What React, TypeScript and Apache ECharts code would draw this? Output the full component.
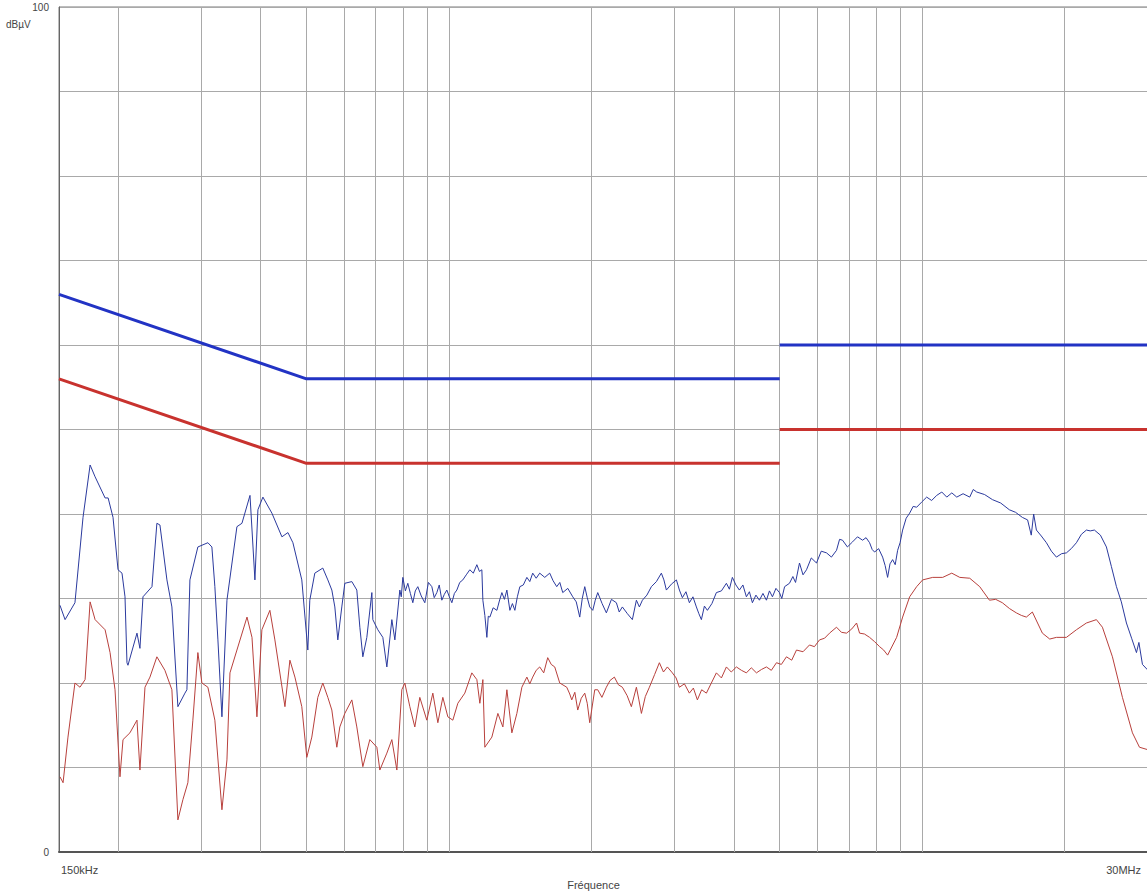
import { useEffect, useRef } from "react";
import * as echarts from "echarts";

// Frequency span of the scan, in MHz
const freqMin = 0.15;
const freqMax = 30;

// Level span, in dBµV
const levelMin = 0;
const levelMax = 100;
const levelStep = 10;

// Vertical grid lines (MHz): 1-2-3…9 per decade
const gridFreqs = [0.2, 0.3, 0.4, 0.5, 0.6, 0.7, 0.8, 0.9, 1, 2, 3, 4, 5, 6, 7, 8, 9, 10, 20];

// Quasi-peak limit (blue) and average limit (red), [MHz, dBµV]
const qpLimitLow = [[0.15, 66], [0.5, 56], [5, 56]];
const qpLimitHigh = [[5, 60], [30, 60]];
const avLimitLow = [[0.15, 56], [0.5, 46], [5, 46]];
const avLimitHigh = [[5, 50], [30, 50]];

// Peak detector scan, [MHz, dBµV]
const peakTrace = [
  [0.1507, 29.2], [0.1545, 27.5], [0.1621, 29.5], [0.1686, 39.6], [0.1745, 45.8], [0.1788, 44.4],
  [0.1877, 41.9], [0.1905, 41.9], [0.1951, 39.6], [0.1999, 33.4], [0.2038, 33.0], [0.2068, 30.2],
  [0.2088, 22.4], [0.2098, 22.1], [0.2192, 25.9], [0.2224, 24.1], [0.2257, 30.2], [0.2358, 31.4],
  [0.2415, 38.9], [0.2451, 38.7], [0.2536, 32.2], [0.2598, 29.0], [0.2675, 17.2], [0.2768, 18.8],
  [0.2795, 19.2], [0.2836, 32.2], [0.2948, 36.1], [0.3095, 36.6], [0.3156, 36.1], [0.3202, 31.4],
  [0.325, 25.1], [0.3314, 16.0], [0.3396, 29.8], [0.3565, 38.5], [0.3653, 38.9], [0.3799, 42.2],
  [0.3891, 32.2], [0.3948, 40.5], [0.4045, 42.0], [0.4226, 40.1], [0.4437, 37.3], [0.4569, 37.8],
  [0.4681, 36.6], [0.4888, 32.2], [0.5033, 23.9], [0.5082, 29.8], [0.5207, 33.0], [0.5414, 33.6],
  [0.5548, 32.2], [0.5657, 31.0], [0.574, 29.0], [0.5824, 25.1], [0.5938, 29.0], [0.6026, 31.8],
  [0.6235, 32.0], [0.6388, 31.0], [0.6483, 26.6], [0.6578, 23.1], [0.6707, 25.4], [0.6873, 30.7],
  [0.6906, 27.5], [0.7076, 26.3], [0.725, 25.4], [0.7393, 21.9], [0.7575, 27.5], [0.7687, 25.1],
  [0.7875, 31.0], [0.793, 30.2], [0.7991, 32.5], [0.809, 30.9], [0.8187, 31.8], [0.829, 30.6],
  [0.8389, 29.5], [0.849, 30.9], [0.8595, 31.4], [0.874, 30.3], [0.8893, 29.5], [0.905, 31.9],
  [0.9202, 31.4], [0.931, 30.1], [0.9429, 30.7], [0.954, 31.6], [0.9661, 29.8], [0.978, 30.5],
  [0.9899, 31.0], [1.002, 30.2], [1.0143, 29.5], [1.027, 30.6], [1.0392, 31.0], [1.054, 31.9],
  [1.0699, 32.2], [1.088, 32.8], [1.107, 33.4], [1.126, 33.0], [1.1455, 34.0], [1.16, 33.2],
  [1.1737, 33.4], [1.1795, 29.8], [1.191, 28.0], [1.2027, 25.4], [1.211, 27.9], [1.2204, 27.8],
  [1.24, 28.9], [1.2628, 28.6], [1.278, 29.7], [1.2939, 30.7], [1.31, 29.9], [1.3257, 31.0],
  [1.3452, 28.6], [1.362, 29.4], [1.3783, 28.6], [1.395, 30.2], [1.4121, 31.4], [1.436, 31.6],
  [1.4611, 32.5], [1.482, 32.0], [1.5032, 33.0], [1.529, 32.4], [1.5553, 33.0], [1.594, 32.5],
  [1.6329, 33.0], [1.66, 32.1], [1.6897, 31.4], [1.715, 31.9], [1.7397, 30.7], [1.783, 31.2],
  [1.8266, 30.2], [1.858, 29.6], [1.8898, 27.8], [1.913, 30.0], [1.9365, 31.4], [1.96, 30.1],
  [1.984, 29.0], [2.0133, 28.6], [2.038, 29.8], [2.0627, 30.7], [2.107, 29.4], [2.1512, 28.3],
  [2.205, 29.9], [2.2584, 29.5], [2.29, 28.4], [2.3252, 29.0], [2.383, 28.2], [2.4411, 27.5],
  [2.4895, 29.8], [2.526, 29.0], [2.5634, 29.8], [2.62, 30.4], [2.6778, 31.4], [2.744, 32.0],
  [2.8112, 33.0], [2.846, 32.2], [2.8806, 31.0], [2.952, 31.7], [3.0244, 32.2], [3.069, 31.0],
  [3.1138, 30.1], [3.168, 30.8], [3.2216, 29.5], [3.278, 30.2], [3.3333, 29.0], [3.374, 28.2],
  [3.4154, 27.5], [3.466, 29.1], [3.5167, 28.6], [3.595, 29.4], [3.6738, 30.7], [3.765, 30.9],
  [3.8573, 31.8], [3.914, 31.1], [3.9711, 32.5], [4.04, 31.6], [4.109, 31.0], [4.18, 31.6],
  [4.2514, 30.2], [4.314, 30.8], [4.3775, 29.5], [4.453, 30.4], [4.5299, 29.8], [4.608, 30.6],
  [4.6869, 29.8], [4.756, 30.9], [4.8259, 30.2], [4.909, 31.2], [4.9936, 30.7], [5.05, 30.0],
  [5.12, 31.4], [5.243, 31.8], [5.33, 32.6], [5.4, 31.9], [5.5045, 34.2], [5.6, 32.8],
  [5.6952, 33.4], [5.83, 34.8], [5.9794, 34.2], [6.12, 35.6], [6.2784, 35.4], [6.43, 34.9],
  [6.5913, 35.7], [6.69, 37.0], [6.7867, 36.9], [6.95, 36.1], [7.1258, 36.7], [7.3, 37.3],
  [7.4824, 36.9], [7.61, 37.2], [7.7418, 36.6], [7.84, 35.8], [7.9329, 35.5], [8.09, 35.9],
  [8.2487, 34.9], [8.35, 33.9], [8.4515, 32.5], [8.55, 34.1], [8.6596, 34.6], [8.77, 34.0],
  [8.8738, 35.7], [8.98, 36.6], [9.0923, 38.1], [9.25, 39.5], [9.4078, 40.1], [9.57, 40.9],
  [9.7341, 40.8], [9.97, 41.4], [10.22, 42.0], [10.47, 41.6], [10.732, 42.2], [11.0, 42.6],
  [11.269, 42.0], [11.55, 42.5], [11.831, 42.0], [12.2, 42.4], [12.602, 42.0], [12.82, 42.9],
  [13.038, 42.6], [13.55, 42.3], [14.075, 41.7], [14.65, 41.3], [15.281, 40.5], [15.75, 40.2],
  [16.279, 39.6], [16.7, 39.3], [17.0, 37.5], [17.2, 40.0], [17.43, 38.1], [17.85, 37.4],
  [18.301, 36.6], [18.75, 35.6], [19.213, 34.9], [19.7, 35.3], [20.171, 35.4], [20.65, 35.9],
  [21.177, 36.6], [21.7, 37.6], [22.232, 38.1], [22.65, 38.0], [23.114, 38.1], [23.8, 37.5],
  [24.505, 36.1], [25.1, 33.8], [25.73, 31.4], [26.35, 29.6], [27.012, 27.1], [27.7, 25.3],
  [28.362, 23.6], [28.7, 24.8], [29.2, 22.2], [30, 21.5],
];

// Average detector scan, [MHz, dBµV]
const avgTrace = [
  [0.1507, 8.9], [0.153, 8.2], [0.1567, 13.6], [0.1621, 20.0], [0.1661, 19.5], [0.1703, 20.4],
  [0.1745, 29.6], [0.1788, 27.5], [0.1877, 26.3], [0.1923, 23.6], [0.197, 19.2], [0.2018, 8.9],
  [0.2048, 13.3], [0.2118, 14.1], [0.2192, 15.6], [0.2224, 9.7], [0.2279, 19.5], [0.2335, 20.7],
  [0.2415, 23.1], [0.2511, 21.5], [0.2598, 19.2], [0.2675, 3.8], [0.2741, 6.2], [0.2808, 8.2],
  [0.2877, 15.6], [0.2948, 23.6], [0.3006, 20.0], [0.3095, 19.5], [0.3202, 15.6], [0.3314, 5.0],
  [0.3396, 10.9], [0.3446, 21.2], [0.3565, 23.9], [0.3744, 27.8], [0.3836, 25.4], [0.3929, 16.0],
  [0.4025, 26.3], [0.4185, 28.6], [0.4288, 25.1], [0.4503, 17.2], [0.4613, 22.7], [0.4727, 20.7],
  [0.4888, 17.2], [0.5008, 11.2], [0.5132, 13.6], [0.5284, 18.3], [0.5414, 20.0], [0.5548, 18.3],
  [0.5657, 16.8], [0.5796, 12.4], [0.5881, 14.8], [0.6026, 16.4], [0.6235, 18.0], [0.6388, 14.8],
  [0.6578, 10.1], [0.6806, 13.3], [0.7042, 12.4], [0.7145, 9.7], [0.7393, 11.7], [0.7575, 13.3],
  [0.7762, 9.7], [0.7952, 19.2], [0.8069, 20.0], [0.8268, 17.2], [0.847, 14.8], [0.8679, 18.3],
  [0.898, 15.6], [0.9247, 18.8], [0.9475, 15.3], [0.9708, 18.3], [0.9947, 16.0], [1.0192, 15.6],
  [1.0443, 17.6], [1.0804, 18.8], [1.1179, 21.2], [1.1455, 20.4], [1.1624, 17.6], [1.1795, 20.4],
  [1.191, 12.4], [1.2323, 13.6], [1.2689, 16.4], [1.3002, 14.8], [1.3257, 19.2], [1.3583, 14.1],
  [1.3917, 16.4], [1.426, 19.5], [1.4611, 20.7], [1.482, 19.9], [1.5032, 20.7], [1.529, 21.5],
  [1.5553, 21.9], [1.586, 21.2], [1.6171, 23.0], [1.645, 22.2], [1.6733, 21.9], [1.7146, 20.0],
  [1.7741, 19.5], [1.8, 18.7], [1.8178, 18.0], [1.845, 18.9], [1.8715, 16.8], [1.904, 18.2],
  [1.9365, 18.8], [1.96, 17.6], [1.984, 15.3], [2.0329, 19.2], [2.0627, 19.2], [2.105, 18.3],
  [2.1512, 19.5], [2.19, 20.3], [2.2367, 20.7], [2.28, 19.8], [2.3252, 19.5], [2.38, 18.5],
  [2.4294, 17.2], [2.4895, 19.5], [2.52, 18.0], [2.551, 16.4], [2.6, 18.4], [2.6521, 19.5],
  [2.72, 21.0], [2.7841, 22.4], [2.84, 21.3], [2.8946, 21.9], [2.9657, 21.2], [3.02, 20.6],
  [3.0687, 19.5], [3.145, 19.9], [3.2216, 18.8], [3.285, 19.4], [3.3495, 18.0], [3.42, 19.2],
  [3.4997, 18.8], [3.585, 20.0], [3.6738, 21.2], [3.765, 20.6], [3.8573, 21.9], [3.95, 21.3],
  [4.0495, 21.9], [4.15, 21.5], [4.2514, 21.2], [4.355, 21.8], [4.4641, 21.2], [4.575, 21.6],
  [4.6869, 21.9], [4.8, 21.5], [4.9214, 22.4], [5.04, 22.2], [5.1667, 23.1], [5.3, 22.7],
  [5.4249, 23.9], [5.6, 23.7], [5.7791, 24.5], [5.92, 24.3], [6.068, 25.1], [6.22, 25.3],
  [6.3706, 25.9], [6.5913, 26.6], [6.75, 26.0], [6.9209, 25.9], [7.1, 26.4], [7.2665, 27.1],
  [7.3737, 25.9], [7.55, 25.8], [7.7418, 25.4], [7.93, 24.9], [8.129, 24.3], [8.29, 23.9],
  [8.4515, 23.3], [8.8306, 25.4], [9.0923, 27.8], [9.4078, 30.2], [9.7341, 31.4], [10.022, 32.2],
  [10.524, 32.5], [11.05, 32.5], [11.547, 33.0], [12.006, 32.5], [12.602, 32.4], [13.23, 31.4],
  [13.872, 29.8], [14.3, 29.9], [14.769, 29.5], [15.3, 28.8], [15.81, 28.3], [16.2, 28.0],
  [16.599, 27.8], [17.092, 28.4], [17.946, 25.9], [18.6, 25.2], [19.213, 25.4], [20.171, 25.4],
  [21.177, 26.3], [22.232, 27.1], [23.34, 27.5], [24.033, 26.6], [25.232, 23.1], [26.491, 18.3],
  [27.813, 14.1], [28.781, 12.4], [30, 12.1],
];

const FONT = "'Liberation Sans', Arial, sans-serif";
const TEXT_COLOR = "#444";
const GRID_COLOR = "#a9a9a9";

export default function App() {
  const ref = useRef<HTMLDivElement>(null);

  useEffect(() => {
    if (!ref.current) return;
    const chart = echarts.init(ref.current, undefined, { renderer: "svg" });

    const limitSeries = (data: number[][], color: string) => ({
      type: "line",
      data,
      showSymbol: false,
      symbol: "none",
      silent: true,
      lineStyle: { color, width: 3 },
      z: 4,
    });

    chart.setOption({
      animation: false,
      backgroundColor: "#fff",
      textStyle: { fontFamily: FONT },
      grid: {
        left: 59,
        top: 7,
        width: 1089,
        height: 845,
        show: true,
        borderColor: "#7a7a7a",
        borderWidth: 1,
        containLabel: false,
        outerBoundsMode: "none",
      },
      xAxis: {
        type: "log",
        logBase: 10,
        min: freqMin,
        max: freqMax,
        name: "Fréquence",
        nameLocation: "middle",
        nameGap: 27,
        nameTextStyle: { color: TEXT_COLOR, fontSize: 11, fontFamily: FONT, padding: [0, 20, 0, 0] },
        axisLine: { show: true, lineStyle: { color: "#555", width: 2 } },
        axisTick: { show: false },
        minorTick: { show: false },
        splitLine: { show: false },
        axisLabel: {
          show: true,
          showMinLabel: true,
          showMaxLabel: true,
          alignMinLabel: "left",
          alignMaxLabel: "right",
          margin: 12,
          padding: [0, 7, 0, 2],
          color: TEXT_COLOR,
          fontSize: 11,
          fontFamily: FONT,
          formatter: (v: number) =>
            Math.abs(v - freqMin) < 0.01 ? "150kHz" : Math.abs(v - freqMax) < 0.5 ? "30MHz" : "",
        },
      },
      yAxis: {
        type: "value",
        min: levelMin,
        max: levelMax,
        interval: levelStep,
        axisLine: { show: true, lineStyle: { color: "#666", width: 1 } },
        axisTick: { show: false },
        splitLine: { show: true, lineStyle: { color: GRID_COLOR, width: 1 } },
        axisLabel: {
          show: true,
          margin: 10,
          color: TEXT_COLOR,
          fontSize: 10,
          fontFamily: FONT,
          formatter: (v: number) => (v === levelMin || v === levelMax ? String(v) : ""),
        },
      },
      graphic: [
        {
          type: "text",
          left: 6,
          top: 19,
          style: { text: "dBµV", fill: TEXT_COLOR, font: `10px ${FONT}` },
        },
      ],
      series: [
        {
          name: "Average",
          type: "line",
          data: avgTrace,
          showSymbol: false,
          symbol: "none",
          silent: true,
          lineStyle: { color: "#b8403c", width: 1 },
          z: 3,
          markLine: {
            silent: true,
            symbol: ["none", "none"],
            label: { show: false },
            lineStyle: { color: GRID_COLOR, width: 1, type: "solid" },
            data: gridFreqs.map((f) => ({ xAxis: f })),
            z: 1,
          },
        },
        {
          name: "Peak",
          type: "line",
          data: peakTrace,
          showSymbol: false,
          symbol: "none",
          silent: true,
          lineStyle: { color: "#2b3a9e", width: 1 },
          z: 3,
        },
        limitSeries(qpLimitLow, "#2233c4"),
        limitSeries(qpLimitHigh, "#2233c4"),
        limitSeries(avLimitLow, "#c8322e"),
        limitSeries(avLimitHigh, "#c8322e"),
      ],
    });

    return () => chart.dispose();
  }, []);

  return (
    <div
      ref={ref}
      style={{ position: "absolute", left: 0, top: 0, width: 1147, height: 893 }}
    />
  );
}
